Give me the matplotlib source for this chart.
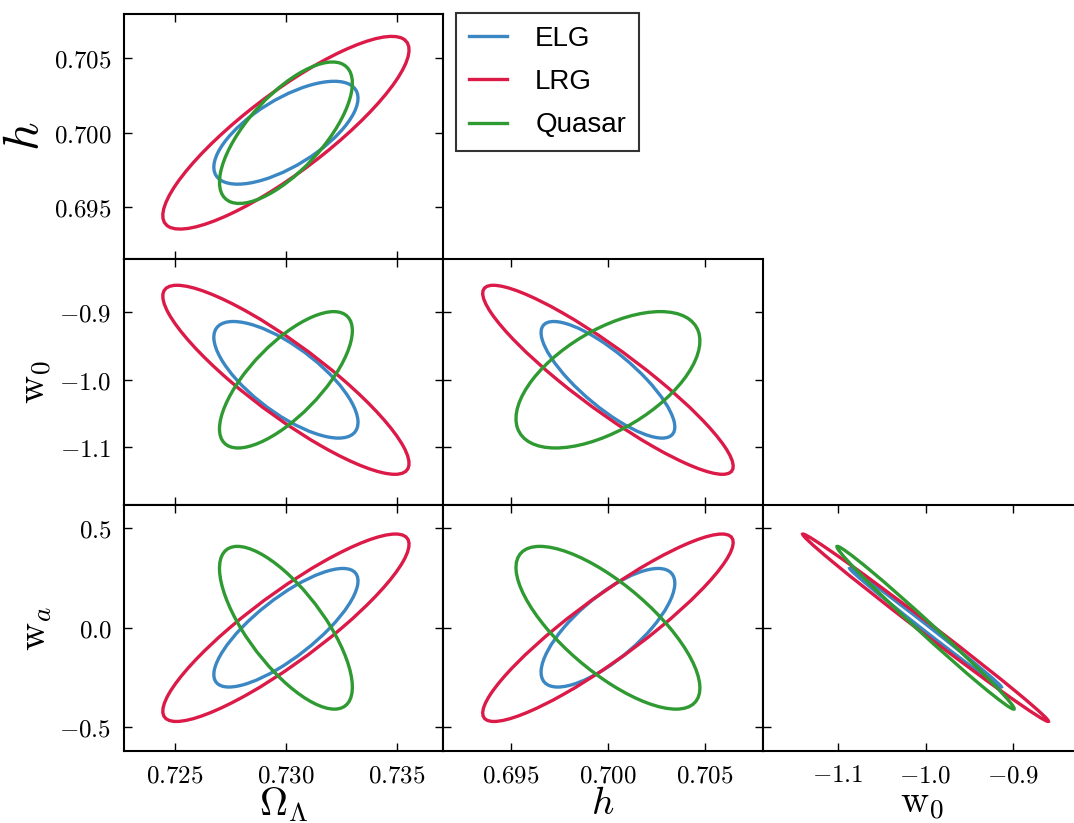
import numpy as np
import matplotlib
matplotlib.use("Agg")
import matplotlib.pyplot as plt
from matplotlib.patches import Ellipse
from matplotlib.lines import Line2D
from matplotlib.ticker import MultipleLocator, FuncFormatter

plt.rcParams['mathtext.fontset'] = 'cm'
plt.rcParams['font.family'] = ['Liberation Sans', 'DejaVu Sans']

# parameters: Omega_Lambda, h, w0, wa
labels = [r'$\Omega_\Lambda$', r'$h$', r'$\mathrm{w}_0$', r'$\mathrm{w}_a$']
fiducial = [0.73, 0.70, -1.0, 0.0]
limits = [(0.7227, 0.7371), (0.6915, 0.7080), (-1.186, -0.821), (-0.618, 0.617)]
tick_step = [0.005, 0.005, 0.1, 0.5]
tick_fmt = ['%.3f', '%.3f', '%.1f', '%.1f']

tracers = ['ELG', 'LRG', 'Quasar']
colors = ['#3A87C4', '#DC1A48', '#2F9A32']

# marginalised 1-sigma errors on (Omega_L, h, w0, wa)
sigma_elg = [0.002143, 0.002278, 0.05710, 0.1965]
sigma_lrg = [0.003660, 0.004266, 0.09258, 0.3106]
sigma_qso = [0.001975, 0.003132, 0.06679, 0.2697]

# correlations for pairs (OL,h) (OL,w0) (OL,wa) (h,w0) (h,wa) (w0,wa)
corr_elg = [0.67, -0.73, 0.79, -0.81, 0.75, -0.998]
corr_lrg = [0.86, -0.885, 0.89, -0.915, 0.91, -0.997]
corr_qso = [0.70, 0.72, -0.73, 0.57, -0.74, -0.994]

sigmas = [sigma_elg, sigma_lrg, sigma_qso]
corrs = [corr_elg, corr_lrg, corr_qso]
pairs = [(0, 1), (0, 2), (0, 3), (1, 2), (1, 3), (2, 3)]

chi2 = 2.30  # 68% for two parameters


def cov_matrix(sig, cor):
    c = np.diag(np.array(sig) ** 2)
    for (i, j), r in zip(pairs, cor):
        c[i, j] = c[j, i] = r * sig[i] * sig[j]
    return c


def add_ellipse(ax, cov, i, j, color):
    sub = cov[np.ix_([i, j], [i, j])]
    vals, vecs = np.linalg.eigh(sub)
    angle = np.degrees(np.arctan2(vecs[1, 1], vecs[0, 1]))
    w = 2 * np.sqrt(chi2 * vals[1])
    hgt = 2 * np.sqrt(chi2 * vals[0])
    e = Ellipse((fiducial[i], fiducial[j]), w, hgt, angle=angle,
                fill=False, edgecolor=color, lw=2.4)
    ax.add_patch(e)


covs = [cov_matrix(s, c) for s, c in zip(sigmas, corrs)]

W, H = 1074, 823
fig = plt.figure(figsize=(W / 100, H / 100), dpi=100)

left0 = 124 / W
pw = 319.4 / W
ph = 245.7 / H
bottom0 = 72.3 / H

for row in range(3):
    for col in range(row + 1):
        ix = col          # x parameter
        iy = row + 1      # y parameter
        ax = fig.add_axes([left0 + col * pw, bottom0 + (2 - row) * ph, pw, ph])
        for k in range(len(tracers)):
            add_ellipse(ax, covs[k], ix, iy, colors[k])
        ax.set_xlim(limits[ix])
        ax.set_ylim(limits[iy])
        ax.xaxis.set_major_locator(MultipleLocator(tick_step[ix]))
        ax.yaxis.set_major_locator(MultipleLocator(tick_step[iy]))
        ax.xaxis.set_major_formatter(FuncFormatter(lambda v, p, f=tick_fmt[ix]: '$' + f % v + '$'))
        ax.yaxis.set_major_formatter(FuncFormatter(lambda v, p, f=tick_fmt[iy]: '$' + f % v + '$'))
        ax.tick_params(direction='in', length=6, width=1, top=True, right=True,
                       labelsize=18, pad=9)
        for s in ax.spines.values():
            s.set_linewidth(1.5)
        if row == 2:
            ax.set_xlabel(labels[ix], fontsize=28, labelpad=-1)
        else:
            ax.tick_params(labelbottom=False)
        if col == 0:
            ax.set_ylabel(labels[iy], fontsize=36 if iy == 1 else 28, labelpad=4)
        else:
            ax.tick_params(labelleft=False)

handles = [Line2D([], [], color=c, lw=2.4) for c in colors]
leg = fig.legend(handles, tracers, loc='upper left',
                 bbox_to_anchor=(456 / W, 1 - 13.3 / H), borderaxespad=0,
                 fontsize=20, handlelength=1.4, handletextpad=1.0,
                 labelspacing=0.62, borderpad=0.45, fancybox=False)
leg.get_frame().set_edgecolor('black')
leg.get_frame().set_linewidth(1.5)

fig.savefig('out.png', dpi=100)
